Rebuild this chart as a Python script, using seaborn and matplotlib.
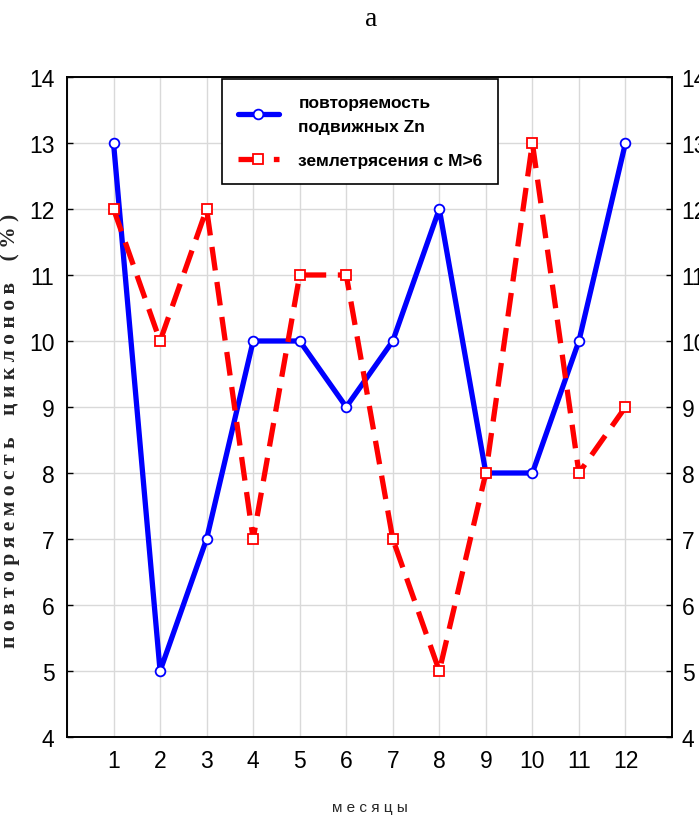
import matplotlib
matplotlib.use("Agg")
import matplotlib.pyplot as plt
from matplotlib import font_manager
import seaborn as sns
import pandas as pd

months = [1, 2, 3, 4, 5, 6, 7, 8, 9, 10, 11, 12]
zn_values = [13, 5, 7, 10, 10, 9, 10, 12, 8, 8, 10, 13]
eq_values = [12, 10, 12, 7, 11, 11, 7, 5, 8, 13, 8, 9]
y_ticks = [4, 5, 6, 7, 8, 9, 10, 11, 12, 13, 14]
label_zn = "повторяемость\nподвижных Zn"
label_eq = "землетрясения с M>6"

sns.set_style("white")
names = {f.name for f in font_manager.fontManager.ttflist}
if "Liberation Sans Narrow" in names:
    sans = ["Liberation Sans Narrow", "DejaVu Sans"]
else:
    sans = ["Liberation Sans", "DejaVu Sans"]
serif = ["Liberation Serif", "DejaVu Serif"]
plt.rcParams["font.family"] = sans
plt.rcParams["text.color"] = "black"

df = pd.DataFrame({"month": months, "zn": zn_values, "eq": eq_values})

fig = plt.figure(figsize=(6.99, 8.20), dpi=100)
ax = fig.add_axes([67/699, 1 - 738/820, (672-67)/699, (738-78)/820])

sns.lineplot(data=df, x="month", y="zn", ax=ax, color="#0000ff", lw=3.8,
             marker="o", markersize=7, markerfacecolor="white",
             markeredgecolor="#0000ff", markeredgewidth=1.3, label=label_zn)
sns.lineplot(data=df, x="month", y="eq", ax=ax, color="#ff0000", lw=3.8,
             marker="s", markersize=7, markerfacecolor="white",
             markeredgecolor="#ff0000", markeredgewidth=1.3, label=label_eq)
ax.lines[1].set_dashes([4.5, 2.2])

ax.set_xlim(0, 13)
ax.set_ylim(4, 14)
ax.set_xticks(list(range(0, 14)))
ax.set_xticklabels([""] + [str(m) for m in months] + [""])
ax.set_yticks(y_ticks)
ax.set_yticklabels([str(v) for v in y_ticks])
ax.grid(True, color="#d9d9d9", lw=1)
ax.tick_params(direction="in", length=4, width=1, labelsize=16.5, colors="black",
               pad=9)
for s in ax.spines.values():
    s.set_color("black")
    s.set_linewidth(1.2)

ax2 = ax.twinx()
ax2.set_ylim(4, 14)
ax2.set_yticks(y_ticks)
ax2.set_yticklabels([str(v) for v in y_ticks])
ax2.tick_params(direction="in", length=4, width=1, labelsize=16.5, colors="black", pad=7)
ax2.grid(False)
for s in ax2.spines.values():
    s.set_color("black")
    s.set_linewidth(1.2)

ax.set_xlabel("м е с я ц ы", fontsize=11, labelpad=20)
ax.set_ylabel("п о в т о р я е м о с т ь    ц и к л о н о в    ( % )",
              family=serif, fontsize=15.5, fontweight="bold", labelpad=10)
ax.yaxis.set_label_coords(-47/605, 0.466)

leg = ax.legend(loc="upper left", bbox_to_anchor=(155/605, 1 - 2/660),
                frameon=True, fancybox=False, edgecolor="black",
                prop={"family": sans, "weight": "bold", "size": 12.5},
                handlelength=2.4, borderpad=0.9, labelspacing=1.1,
                handletextpad=1.1, borderaxespad=0)
for t in leg.get_texts():
    t.set_linespacing(1.75)
leg.get_frame().set_linewidth(1.2)
leg.get_frame().set_alpha(1)

fig.text(371/699, 1 - 20/820, "a", ha="center", va="center",
         family=serif, fontsize=20)

fig.savefig("out.png", dpi=100)
